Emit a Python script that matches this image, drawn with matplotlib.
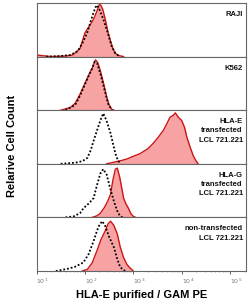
import numpy as np
import matplotlib
matplotlib.use("Agg")
import matplotlib.pyplot as plt

plt.rcParams['font.family'] = ['Liberation Sans', 'DejaVu Sans']

# panel labels, top to bottom
labels = ["RAJI", "K562", "HLA-E\ntransfected\nLCL 721.221",
          "HLA-G\ntransfected\nLCL 721.221", "non-transfected\nLCL 721.221"]

# stained (red) histograms: log10 intensity, relative count
raji_x = [1.0, 1.3, 1.6, 1.75, 1.9, 2.0, 2.1, 2.18, 2.25, 2.3, 2.33, 2.37, 2.42, 2.48, 2.53, 2.58, 2.63, 2.7, 2.8]
raji_y = [0.03, 0.0, 0.01, 0.03, 0.15, 0.44, 0.58, 0.7, 0.85, 0.97, 0.96, 0.88, 0.7, 0.45, 0.29, 0.15, 0.06, 0.02, 0.0]
k562_x = [1.5, 1.7, 1.8, 1.9, 2.0, 2.08, 2.15, 2.2, 2.22, 2.27, 2.33, 2.4, 2.45, 2.5, 2.55, 2.6]
k562_y = [0.0, 0.05, 0.13, 0.3, 0.5, 0.66, 0.78, 0.9, 0.94, 0.88, 0.7, 0.45, 0.25, 0.1, 0.02, 0.0]
hlae_x = [2.45, 2.6, 2.75, 2.87, 3.0, 3.14, 3.3, 3.41, 3.52, 3.62, 3.7, 3.76, 3.82, 3.87, 3.94, 4.0, 4.06, 4.11, 4.18, 4.24, 4.3, 4.34]
hlae_y = [0.0, 0.03, 0.06, 0.09, 0.14, 0.19, 0.28, 0.38, 0.5, 0.62, 0.76, 0.87, 0.9, 0.95, 0.86, 0.81, 0.68, 0.49, 0.3, 0.15, 0.05, 0.0]
hlag_x = [2.15, 2.25, 2.32, 2.4, 2.47, 2.53, 2.58, 2.63, 2.67, 2.72, 2.8, 2.85, 2.9, 2.95, 3.0, 3.05]
hlag_y = [0.0, 0.03, 0.08, 0.18, 0.3, 0.43, 0.7, 0.9, 0.92, 0.75, 0.36, 0.25, 0.17, 0.07, 0.02, 0.0]
nont_x = [1.95, 2.05, 2.15, 2.25, 2.33, 2.42, 2.48, 2.53, 2.6, 2.67, 2.73, 2.8, 2.87, 2.94, 3.0]
nont_y = [0.0, 0.03, 0.15, 0.38, 0.58, 0.75, 0.88, 0.93, 0.85, 0.69, 0.45, 0.25, 0.12, 0.05, 0.0]

# isotype control (dotted) histograms
raji_cx = [1.2, 1.5, 1.7, 1.85, 1.95, 2.05, 2.1, 2.17, 2.22, 2.25, 2.3, 2.38, 2.48, 2.55, 2.63, 2.72]
raji_cy = [0.0, 0.01, 0.03, 0.1, 0.25, 0.45, 0.6, 0.8, 0.92, 0.96, 0.88, 0.7, 0.42, 0.2, 0.06, 0.0]
k562_cx = [1.6, 1.8, 1.9, 2.0, 2.08, 2.15, 2.2, 2.25, 2.32, 2.4, 2.48, 2.56]
k562_cy = [0.0, 0.1, 0.27, 0.48, 0.64, 0.78, 0.9, 0.88, 0.68, 0.4, 0.12, 0.0]
hlae_cx = [1.5, 1.8, 1.95, 2.05, 2.12, 2.18, 2.25, 2.32, 2.38, 2.45, 2.53, 2.58, 2.63, 2.68, 2.73]
hlae_cy = [0.0, 0.02, 0.05, 0.11, 0.25, 0.43, 0.62, 0.81, 0.94, 0.8, 0.57, 0.38, 0.19, 0.07, 0.0]
hlag_cx = [1.6, 1.77, 1.9, 1.97, 2.08, 2.18, 2.25, 2.32, 2.38, 2.45, 2.52, 2.6, 2.67, 2.73, 2.78]
hlag_cy = [0.0, 0.02, 0.08, 0.17, 0.26, 0.36, 0.6, 0.82, 0.9, 0.8, 0.55, 0.3, 0.12, 0.02, 0.0]
nont_cx = [1.4, 1.64, 1.8, 1.97, 2.08, 2.18, 2.25, 2.3, 2.36, 2.42, 2.5, 2.6, 2.67, 2.73, 2.83]
nont_cy = [0.0, 0.04, 0.08, 0.16, 0.32, 0.56, 0.75, 0.86, 0.93, 0.84, 0.64, 0.44, 0.22, 0.07, 0.0]

stained = [(raji_x, raji_y), (k562_x, k562_y), (hlae_x, hlae_y), (hlag_x, hlag_y), (nont_x, nont_y)]
control = [(raji_cx, raji_cy), (k562_cx, k562_cy), (hlae_cx, hlae_cy), (hlag_cx, hlag_cy), (nont_cx, nont_cy)]
decades = [1, 2, 3, 4, 5]

fig = plt.figure(figsize=(2.48, 3.04), dpi=100)
left, right = 36.5 / 248, 246 / 248
bot, top = 33 / 304, 301 / 304
h = (top - bot) / 5

for i in range(5):
    ax = fig.add_axes([left, top - (i + 1) * h, right - left, h])
    ax.set_xscale('log')
    ax.set_xlim(10 ** 1, 10 ** 5.33)
    ax.set_ylim(0, 1.0)
    sx, sy = stained[i]
    cx, cy = control[i]
    sx = 10 ** np.array(sx)
    ax.fill_between(sx, sy, color='#f7a3a3', lw=0)
    ax.plot(sx, sy, color='#cc1414', lw=1.0)
    ax.plot(10 ** np.array(cx), cy, color='black', lw=1.3, ls=(0, (1, 1.1)))
    ax.text(0.985, 0.85, labels[i], transform=ax.transAxes, ha='right', va='top',
            fontsize=5.5, fontweight='bold', linespacing=1.45, color='#111111')
    ax.set_yticks([])
    for s in ['top', 'bottom', 'left', 'right']:
        ax.spines[s].set_color('#666666')
        ax.spines[s].set_linewidth(0.8)
    if i < 4:
        ax.tick_params(axis='x', which='both', bottom=False, labelbottom=False)
    else:
        ax.set_xticks([10 ** d for d in decades])
        ax.set_xticklabels(['$10^{%d}$' % d for d in decades])
        ax.tick_params(axis='x', which='major', length=2, width=0.6, color='#444444',
                       labelsize=4.5, labelcolor='#777777', pad=2)
        ax.tick_params(axis='x', which='minor', length=1, width=0.4, color='#777777')
        for t in ax.get_xticklabels():
            t.set_horizontalalignment('left')
        ax.set_xlabel('HLA-E purified / GAM PE', fontsize=8, fontweight='bold', labelpad=3)

fig.text(0.048, (bot + top) / 2 - 0.03, 'Relarive Cell Count', rotation=90, ha='center', va='center',
         fontsize=8, fontweight='bold')

fig.savefig('out.png', dpi=100)
